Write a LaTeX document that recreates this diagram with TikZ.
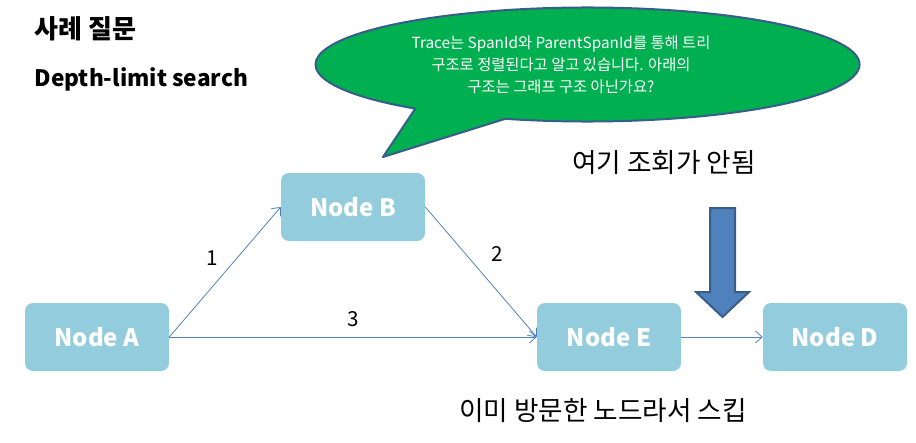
\documentclass[tikz,border=0pt]{standalone}
\usepackage{fontspec}
\setmainfont{Noto Sans CJK KR}
\usepackage{tikz}
\usetikzlibrary{arrows.meta,positioning}
\definecolor{nodec}{RGB}{147,205,221}
\definecolor{edgec}{RGB}{79,129,189}
\definecolor{bubc}{RGB}{0,176,80}
\definecolor{bubline}{RGB}{56,93,138}
\tikzset{
  gnode/.style={fill=nodec,rounded corners=6pt,text=white,font=\fontsize{18}{20}\selectfont\bfseries,
                minimum width=108pt,minimum height=51pt,inner sep=0pt},
  edge/.style={->,edgec,line width=0.6pt},
  elabel/.style={font=\fontsize{15.5}{18}\selectfont,text=black}
}

\begin{document}
\begin{tikzpicture}[x=0.75pt,y=-0.75pt,>={Straight Barb[length=5pt,width=9pt]}]
\useasboundingbox (0,0) rectangle (916,442);
% titles
\node[anchor=west,font=\fontsize{19.5}{22}\selectfont\bfseries] (title) at (30,29) {사례 질문};
\node[anchor=west,font=\fontsize{17}{20}\selectfont\bfseries] (subtitle) at (30,79) {Depth-limit search};
% speech bubble
\draw[fill=bubc,draw=bubline,line width=1.5pt,line join=round]
  ([shift={(107.6:272 and 57)}]587.5,64.5) arc[start angle=107.6,end angle=-230.7,x radius=272,y radius=57]
  -- (383,157) -- cycle;
\node[text=white,align=center,font=\fontsize{11.5}{16.5}\selectfont] (question) at (561,65)
  {Trace는 SpanId와 ParentSpanId를 통해 트리\\구조로 정렬된다고 알고 있습니다. 아래의\\구조는 그래프 구조 아닌가요?};
% graph nodes
\node[gnode] (nodeA) at (97,337) {Node A};
\node[gnode] (nodeB) at (353,207) {Node B};
\node[gnode] (nodeE) at (609,337) {Node E};
\node[gnode] (nodeD) at (835,337) {Node D};
\draw[edge] (nodeA.east) -- (nodeB.west) node[midway,above left=2pt,elabel]{1};
\draw[edge] (nodeB.east) -- (nodeE.west) node[midway,above right=6pt,elabel]{2};
\draw[edge] (nodeA.east) -- (nodeE.west) node[midway,above=4pt,elabel]{3};
\draw[edge] (nodeE.east) -- (nodeD.west);
% notes
\node[font=\fontsize{20}{22}\selectfont] (noquery) at (664,163) {여기 조회가 안됨};
\node[font=\fontsize{20}{22}\selectfont] (skipped) at (603,411) {이미 방문한 노드라서 스킵};
% big down arrow
\draw[fill=edgec,draw=bubline,line width=1.5pt,line join=miter]
  (710,208) -- (735,208) -- (735,292) -- (749,292) -- (722.5,317) -- (696,292) -- (710,292) -- cycle;
\end{tikzpicture}
\end{document}
